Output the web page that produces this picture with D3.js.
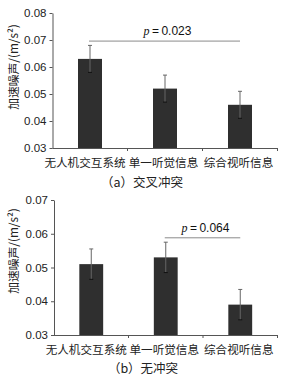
<!DOCTYPE html>
<html><head><meta charset="utf-8">
<script src="https://cdn.jsdelivr.net/npm/d3@7"></script>
<style>body{margin:0;background:#fff}svg{display:block}</style>
</head><body><svg id="c" width="281" height="377"></svg>
<script>
const categories = ["无人机交互系统", "单一听觉信息", "综合视听信息"];
const valuesA = [0.063, 0.052, 0.046];
const errorsA = [0.005, 0.005, 0.005];
const valuesB = [0.051, 0.053, 0.039];
const errorsB = [0.0045, 0.0045, 0.0045];
const ticksA = [0.03, 0.04, 0.05, 0.06, 0.07, 0.08];
const ticksB = [0.03, 0.04, 0.05, 0.06, 0.07];
const yLabel = "加速噪声/(m/s²)";
const captions = ["（a）交叉冲突", "（b）无冲突"];
const sigA = {from: 0, to: 2, y: 0.0696, text: "0.023"};
const sigB = {from: 1, to: 2, y: 0.0588, text: "0.064"};

const svg = d3.select("#c");
const numFont = "'Liberation Sans Narrow','Liberation Sans',Arial,sans-serif";
const cjk = "'Noto Sans CJK SC',sans-serif";
const labelShift = [-5, -1.5, -1.5];

function panel(cfg) {
  const g = svg.append("g");
  const x = d3.scaleBand().domain(categories).range([cfg.left, cfg.right])
    .paddingInner(0.68).paddingOuter(0.34);
  const y = d3.scaleLinear().domain([cfg.ticks[0], cfg.ticks[cfg.ticks.length-1]])
    .range([cfg.bottom, cfg.top]);
  // y axis
  const ya = g.append("g").attr("transform", `translate(${cfg.left},0)`)
    .call(d3.axisLeft(y).tickValues(cfg.ticks).tickFormat(d3.format(".2f")).tickSize(3).tickSizeOuter(0));
  ya.select(".domain").attr("stroke", "#555");
  ya.selectAll(".tick line").attr("stroke", "#555");
  ya.selectAll(".tick text").attr("font-family", numFont).attr("font-size", 11.5)
    .attr("fill", "#222").attr("x", -6);
  // x axis
  g.append("line").attr("x1", cfg.left).attr("x2", cfg.right)
    .attr("y1", cfg.bottom + 0.5).attr("y2", cfg.bottom + 0.5).attr("stroke", "#555");
  const step = x.step();
  categories.forEach((c, i) => {
    const bx = x(c) - x.paddingInner() * step / 2 + step;
    g.append("line").attr("x1", bx).attr("x2", bx)
      .attr("y1", cfg.bottom).attr("y2", cfg.bottom + 3).attr("stroke", "#555");
  });
  // bars
  g.selectAll("rect.bar").data(cfg.values).join("rect")
    .attr("x", (d, i) => x(categories[i])).attr("width", x.bandwidth())
    .attr("y", d => y(d)).attr("height", d => y(cfg.ticks[0]) - y(d))
    .attr("fill", "#2f2f2f");
  // error bars
  cfg.values.forEach((v, i) => {
    const cx = x(categories[i]) + x.bandwidth() / 2;
    const e = cfg.errors[i];
    g.append("line").attr("x1", cx).attr("x2", cx).attr("y1", y(v + e)).attr("y2", y(v - e))
      .attr("stroke", "#666").attr("stroke-width", 1);
    g.append("line").attr("x1", cx - 2).attr("x2", cx + 2).attr("y1", y(v + e)).attr("y2", y(v + e))
      .attr("stroke", "#666");
    g.append("line").attr("x1", cx - 2).attr("x2", cx + 2).attr("y1", y(v - e)).attr("y2", y(v - e))
      .attr("stroke", "#111");
  });
  // significance
  const s = cfg.sig;
  const sx1 = x(categories[s.from]) + x.bandwidth() / 2 - 1;
  const sx2 = x(categories[s.to]) + x.bandwidth() / 2;
  g.append("line").attr("x1", sx1).attr("x2", sx2).attr("y1", y(s.y)).attr("y2", y(s.y))
    .attr("stroke", "#8a8a8a").attr("stroke-width", 1);
  const t = g.append("text").attr("x", (sx1 + sx2) / 2 + 3).attr("y", y(s.y) - 6)
    .attr("text-anchor", "middle").attr("font-size", 12).attr("fill", "#111");
  t.append("tspan").attr("font-family", "'Liberation Serif',serif").attr("font-style", "italic").text("p");
  t.append("tspan").attr("font-family", numFont).text("\u2009=\u20090" + s.text.slice(1));
  // category labels
  g.selectAll("text.cat").data(categories).join("text")
    .attr("x", (d, i) => x(d) + x.bandwidth() / 2 + labelShift[i]).attr("y", cfg.bottom + 18.5)
    .attr("text-anchor", "middle").attr("font-family", cjk).attr("font-size", 11.6)
    .attr("fill", "#222").text(d => d);
  // y label
  g.append("text").attr("transform", `translate(${cfg.ylx},${cfg.yly}) rotate(-90)`)
    .attr("text-anchor", "middle").attr("font-family", cjk).attr("font-size", 11.8)
    .attr("fill", "#222").text(yLabel);
  // caption
  g.append("text").attr("x", cfg.capx).attr("y", cfg.capy).attr("text-anchor", "middle")
    .attr("font-family", cjk).attr("font-size", 12.5).attr("fill", "#222").text(cfg.caption);
}

panel({left: 52.5, right: 277.5, top: 13, bottom: 148, ticks: ticksA, values: valuesA,
  errors: errorsA, sig: sigA, ylx: 18, yly: 67, caption: captions[0], capx: 142, capy: 187});
panel({left: 54, right: 277.5, top: 200, bottom: 335, ticks: ticksB, values: valuesB,
  errors: errorsB, sig: sigB, ylx: 18, yly: 251, caption: captions[1], capx: 143, capy: 373});
</script></body></html>
